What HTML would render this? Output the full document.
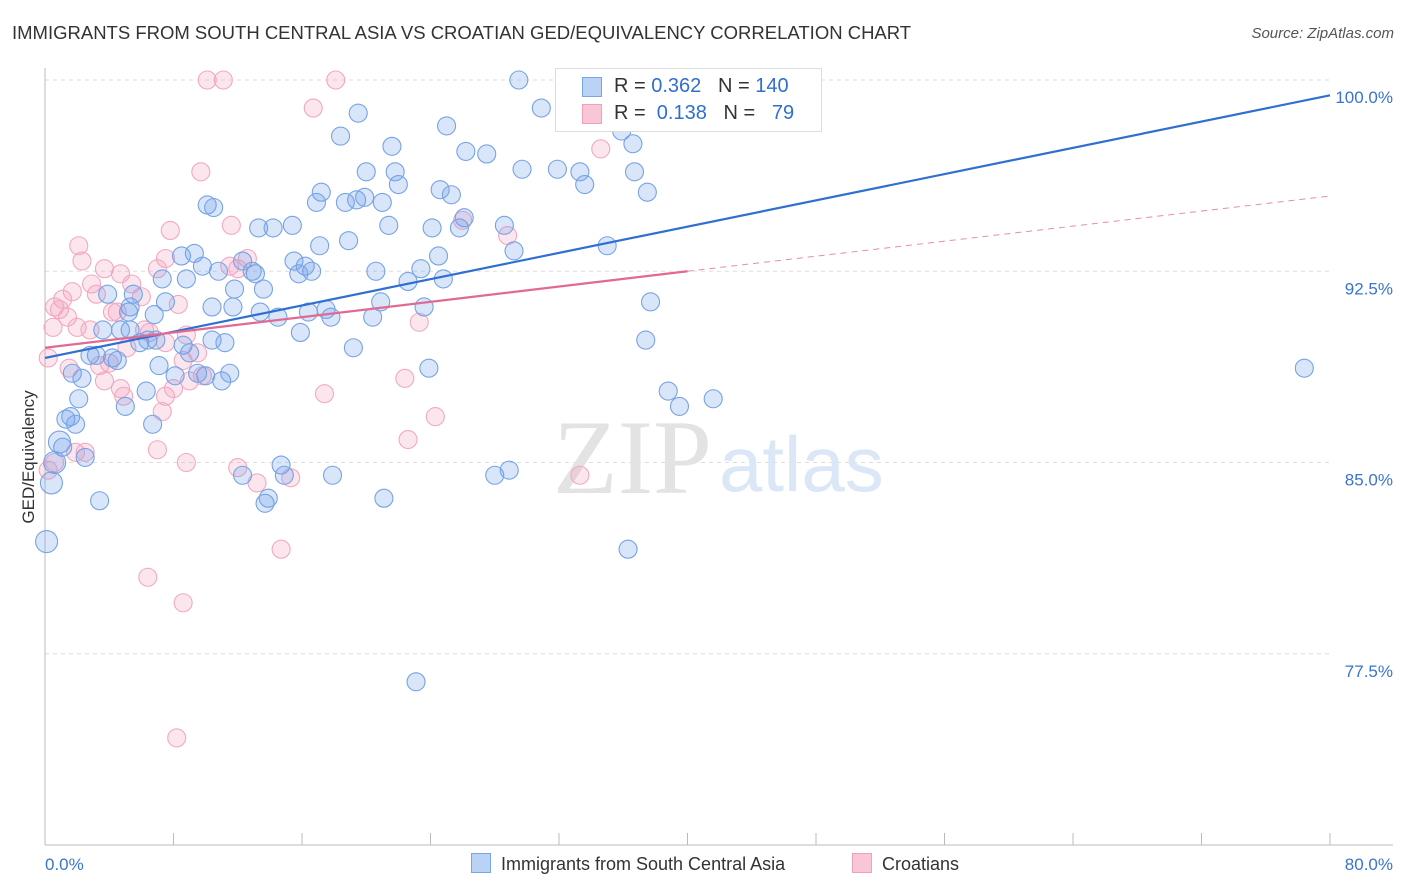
<!DOCTYPE html>
<html><head><meta charset="utf-8">
<style>
body{margin:0;background:#fff;font-family:"Liberation Sans",sans-serif;}
#wrap{position:relative;width:1406px;height:892px;overflow:hidden;}
.t{position:absolute;white-space:nowrap;}
</style></head>
<body>
<div id="wrap">
<div class="t" style="left:12px;top:22px;font-size:18.5px;color:#333;">IMMIGRANTS FROM SOUTH CENTRAL ASIA VS CROATIAN GED/EQUIVALENCY CORRELATION CHART</div>
<div class="t" style="right:12px;top:25px;font-size:15px;color:#555;font-style:italic;">Source: ZipAtlas.com</div>
<svg id="plot" width="1406" height="892" style="position:absolute;left:0;top:0"></svg>
</div>
<script>
const yTicks=[100,92.5,85,77.5];
const yTickLabels=["100.0%","92.5%","85.0%","77.5%"];
const xTickLabels=["0.0%","80.0%"];
const blueX=[29.5,30.9,19.5,32.9,25.0,18.4,21.6,26.2,27.5,35.9,36.6,20.0,21.8,29.7,31.9,33.3,36.7,33.6,22.0,17.2,24.6,25.3,37.5,16.9,18.7,19.4,19.9,21.0,10.1,10.5,28.6,26.1,21.4,24.1,25.8,15.4,13.3,14.2,18.9,17.1,29.2,35.0,8.5,9.3,9.8,10.8,12.3,12.9,13.1,7.3,8.8,15.5,16.2,16.6,15.8,20.6,24.5,23.4,22.6,24.8,13.6,11.8,7.5,5.5,3.9,5.3,5.2,5.3,6.8,3.6,4.7,10.4,11.7,13.4,14.5,16.4,17.5,17.8,20.9,20.4,23.6,15.9,37.7,2.8,3.2,4.2,4.5,5.9,6.4,6.9,8.6,9.0,10.4,11.2,19.2,37.4,1.7,2.3,7.1,8.1,9.5,10.0,11.0,11.5,23.9,2.1,5.0,6.3,38.8,39.5,41.6,1.3,1.6,1.9,6.7,0.9,1.1,2.5,0.6,0.4,3.4,14.7,14.9,12.3,13.7,13.9,17.9,21.1,28.0,28.9,36.3,0.1,23.1,78.4];
const blueY=[100,98.9,98.7,98.4,98.2,97.8,97.4,97.2,97.1,98.0,97.5,96.4,96.4,96.5,96.5,96.4,96.4,95.9,95.9,95.6,95.7,95.5,95.6,95.2,95.2,95.3,95.4,95.2,95.1,95.0,94.3,94.6,94.3,94.2,94.2,94.3,94.2,94.2,93.7,93.5,93.3,93.5,93.1,93.2,92.7,92.5,92.9,92.5,92.4,92.2,92.2,92.9,92.7,92.5,92.4,92.5,93.1,92.6,92.1,92.2,91.8,91.8,91.3,91.6,91.6,91.1,90.9,90.2,90.8,90.2,90.2,91.1,91.1,90.9,90.7,90.9,91.0,90.7,91.3,90.7,91.1,90.1,91.3,89.2,89.2,89.1,89.0,89.7,89.8,89.8,89.6,89.3,89.8,89.7,89.5,89.8,88.5,88.3,88.8,88.4,88.5,88.4,88.2,88.5,88.7,87.5,87.2,87.8,87.8,87.2,87.5,86.7,86.8,86.5,86.5,85.8,85.6,85.2,85.0,84.2,83.5,84.9,84.5,84.5,83.4,83.6,84.5,83.6,84.5,84.7,81.6,81.9,76.4,88.7];
const pinkX=[10.1,11.1,18.1,16.7,34.7,34.6,9.7,7.8,11.6,26.0,28.8,2.1,2.3,7.5,12.6,11.5,12.0,3.7,4.7,7.0,5.4,2.9,1.1,0.6,1.7,3.2,6.0,8.3,0.9,1.4,0.5,2.0,2.8,4.2,4.5,6.2,6.5,8.8,7.5,5.1,0.2,1.5,3.4,4.0,9.5,8.6,4.7,4.9,3.7,7.5,8.0,9.0,9.8,22.4,17.4,7.3,24.3,23.3,1.9,2.5,7.0,8.8,12.0,13.2,15.3,22.6,33.3,6.4,8.6,14.7,8.2,0.2,0.6];
const pinkY=[100,100,100,98.9,98.6,97.3,96.4,94.1,94.3,94.5,93.9,93.5,92.9,93.0,93.0,92.7,92.6,92.6,92.4,92.6,92.0,92.0,91.4,91.1,91.7,91.6,91.5,91.2,91.0,90.7,90.3,90.3,90.2,90.9,90.9,90.2,90.1,90.0,89.7,89.5,89.1,88.7,88.8,88.9,89.3,89.0,87.9,87.6,88.2,87.6,87.9,88.2,88.4,88.3,87.7,87.0,86.8,90.5,85.4,85.4,85.5,85.0,84.8,84.2,84.4,85.9,84.5,80.5,79.5,81.6,74.2,84.7,85.0];
const blueLine=[[0,89.1],[80,99.4]];
const pinkLine=[[0,89.5],[40,92.5]];
const pinkDash=[[40,92.5],[80,95.45]];

const X=v=>45+v*(1285/80);
const Y=v=>80+(100-v)*25.5;
const svg=document.getElementById('plot');
const NS='http://www.w3.org/2000/svg';
function mk(tag,attrs,parent){const e=document.createElementNS(NS,tag);for(const k in attrs)e.setAttribute(k,attrs[k]);(parent||svg).appendChild(e);return e;}

yTicks.forEach((t,i)=>{
  const g=mk('line',{x1:45,x2:1330,y1:Y(t),y2:Y(t),stroke:'#ddd','stroke-dasharray':'4,4'});
  
  
  const tx=mk('text',{x:1393,y:Y(t)+23,'text-anchor':'end','font-size':17,fill:'#3a74d0','font-family':'Liberation Sans'});
  tx.textContent=yTickLabels[i];
  
  
});
const ax=mk('line',{x1:45,x2:1393,y1:845,y2:845,stroke:'#bbb'});


const ay=mk('line',{x1:45,x2:45,y1:68,y2:845,stroke:'#bbb'});


for(let k=0;k<=10;k++){
  const tk=mk('line',{x1:X(k*8),x2:X(k*8),y1:833,y2:845,stroke:'#bbb'});
  
  
}
[[0,'start',45],[80,'end',1393]].forEach((d,i)=>{
  const tx=mk('text',{x:d[2],y:870,'text-anchor':d[1],'font-size':17,fill:'#3a74d0','font-family':'Liberation Sans'});
  tx.textContent=xTickLabels[i];
  
  
});
const yt=mk('text',{x:34,y:457,transform:'rotate(-90 34 457)','text-anchor':'middle','font-size':17,fill:'#333','font-family':'Liberation Sans'});
yt.textContent='GED/Equivalency';



const w1=mk('text',{x:553,y:493,'font-size':106,fill:'#e3e3e3','font-family':'Liberation Serif'});
w1.textContent='ZIP';


const w2=mk('text',{x:719,y:491,'font-size':78,fill:'#dbe7f7','font-family':'Liberation Sans'});
w2.textContent='atlas';



pinkX.forEach((v,i)=>{
  const c=mk('circle',{cx:X(v),cy:Y(pinkY[i]),r:9,fill:'rgba(244,160,190,0.26)',stroke:'#f2a8c2','stroke-width':1.1});
  
  
});
blueX.forEach((v,i)=>{
  const r=(v<1)?11:9;
  const c=mk('circle',{cx:X(v),cy:Y(blueY[i]),r:r,fill:'rgba(110,160,235,0.26)',stroke:'#76a3e3','stroke-width':1.1});
  
  
});
const bl=mk('line',{x1:X(blueLine[0][0]),y1:Y(blueLine[0][1]),x2:X(blueLine[1][0]),y2:Y(blueLine[1][1]),stroke:'#2f6fd0','stroke-width':2.2});


const pl=mk('line',{x1:X(pinkLine[0][0]),y1:Y(pinkLine[0][1]),x2:X(pinkLine[1][0]),y2:Y(pinkLine[1][1]),stroke:'#e06a93','stroke-width':2.2});


const pd=mk('line',{x1:X(pinkDash[0][0]),y1:Y(pinkDash[0][1]),x2:X(pinkDash[1][0]),y2:Y(pinkDash[1][1]),stroke:'#e88aab','stroke-width':1,'stroke-dasharray':'6,5'});


</script>
<div class="t" style="left:555px;top:68px;width:265px;height:62px;border:1px solid #ddd;background:#fff;">
 <div class="t" style="left:26px;top:8px;width:18px;height:18px;background:#b9d2f5;border:1px solid #7aa6e6;"></div>
 <div class="t" style="left:58px;top:6px;font-size:20px;color:#333;">R = <span style="color:#2f6fd0">0.362</span>&nbsp;&nbsp;&nbsp;N = <span style="color:#2f6fd0">140</span></div>
 <div class="t" style="left:26px;top:35px;width:18px;height:18px;background:#f9c6d6;border:1px solid #f0a0bc;"></div>
 <div class="t" style="left:58px;top:33px;font-size:20px;color:#333;">R = <span style="color:#2f6fd0">&nbsp;0.138</span>&nbsp;&nbsp;&nbsp;N = <span style="color:#2f6fd0">&nbsp;&nbsp;79</span></div>
</div>
<div class="t" style="left:471px;top:853px;font-size:18px;color:#333;"><span style="display:inline-block;width:18px;height:18px;background:#b9d2f5;border:1px solid #7aa6e6;vertical-align:-3px;margin-right:10px;"></span>Immigrants from South Central Asia</div>
<div class="t" style="left:852px;top:853px;font-size:18px;color:#333;"><span style="display:inline-block;width:18px;height:18px;background:#f9c6d6;border:1px solid #f0a0bc;vertical-align:-3px;margin-right:10px;"></span>Croatians</div>
</body></html>
